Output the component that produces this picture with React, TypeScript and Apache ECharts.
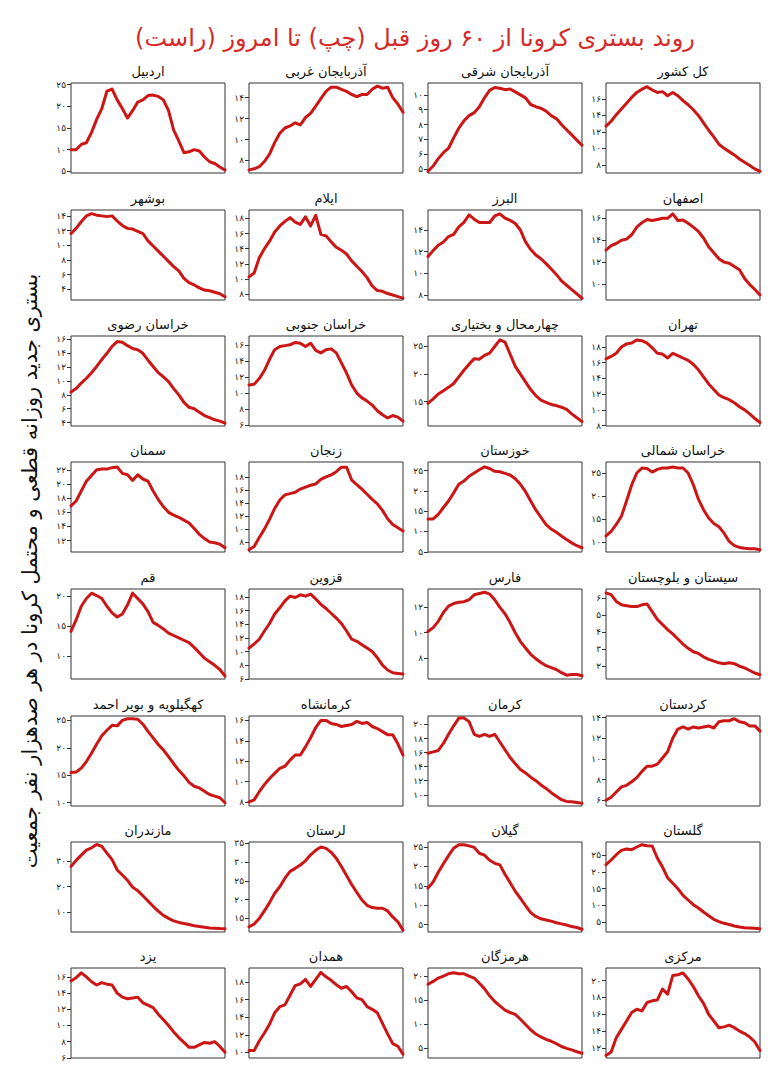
import React, { useEffect, useRef } from "react";
import * as echarts from "echarts";

// ---------- text ----------
const mainTitle = "روند بستری کرونا از ۶۰ روز قبل (چپ) تا امروز (راست)";
const yAxisTitle = "بستری جدید روزانه قطعی و محتمل کرونا در هر صدهزار نفر جمعیت";

// panel names, row by row, left to right
const names = [
  "اردبیل", "آذربایجان غربی", "آذربایجان شرقی", "کل کشور",
  "بوشهر", "ایلام", "البرز", "اصفهان",
  "خراسان رضوی", "خراسان جنوبی", "چهارمحال و بختیاری", "تهران",
  "سمنان", "زنجان", "خوزستان", "خراسان شمالی",
  "قم", "قزوین", "فارس", "سیستان و بلوچستان",
  "کهگیلویه و بویر احمد", "کرمانشاه", "کرمان", "کردستان",
  "مازندران", "لرستان", "گیلان", "گلستان",
  "یزد", "همدان", "هرمزگان", "مرکزی",
];

// days (every second day over the last 60 days)
const days = Array.from({ length: 31 }, (_, i) => String(i * 2));

// ---------- series values ----------
const ardabil = [10, 10, 11.2, 11.6, 14, 17, 19.5, 23.5, 24, 21.5, 19.5, 17.3, 19, 21, 21.5, 22.5, 22.6, 22.3, 21.5, 19, 14.5, 12, 9.3, 9.5, 10, 9.7, 8.3, 7.2, 6.8, 6, 5.3];
const azarGharbi = [7.1, 7.2, 7.4, 7.9, 8.6, 9.7, 10.6, 11.1, 11.3, 11.6, 11.4, 12.1, 12.5, 13.2, 13.9, 14.6, 15.0, 15.0, 14.8, 14.6, 14.3, 14.1, 14.3, 14.3, 14.8, 15.1, 14.9, 15.0, 14.0, 13.4, 12.6];
const azarSharghi = [4.85, 5.2, 5.7, 6.1, 6.4, 7.1, 7.75, 8.25, 8.6, 8.8, 9.2, 9.8, 10.3, 10.5, 10.45, 10.35, 10.4, 10.2, 10.0, 9.8, 9.35, 9.2, 9.1, 8.9, 8.6, 8.4, 8.0, 7.65, 7.3, 6.95, 6.6];
const kolKeshvar = [12.7, 13.3, 14.1, 14.8, 15.5, 16.2, 16.8, 17.2, 17.5, 17.1, 16.8, 16.9, 16.4, 16.8, 16.4, 15.8, 15.3, 14.7, 14.0, 13.1, 12.2, 11.4, 10.5, 10.0, 9.6, 9.2, 8.7, 8.3, 7.9, 7.5, 7.2];
const bushehr = [11.6, 12.3, 13.2, 14.0, 14.3, 14.1, 14.0, 13.9, 14.0, 13.3, 12.7, 12.3, 12.2, 11.9, 11.6, 10.6, 9.9, 9.2, 8.5, 7.8, 7.1, 6.5, 5.5, 4.9, 4.6, 4.2, 3.9, 3.8, 3.6, 3.4, 3.0];
const ilam = [10.3, 10.8, 12.8, 14.0, 15.0, 16.2, 17.0, 17.6, 18.1, 17.5, 17.2, 18.2, 17.0, 18.4, 15.9, 15.7, 14.9, 14.2, 13.8, 13.3, 12.4, 11.7, 11.0, 10.2, 9.1, 8.5, 8.4, 8.1, 7.9, 7.7, 7.5];
const alborz = [11.55, 12.1, 12.6, 12.9, 13.4, 13.6, 14.3, 14.7, 15.4, 15.0, 14.7, 14.7, 14.7, 15.3, 15.5, 15.1, 14.9, 14.6, 14.0, 12.9, 12.2, 11.7, 11.35, 10.9, 10.4, 9.9, 9.3, 8.9, 8.5, 8.1, 7.7];
const esfahan = [13.1, 13.5, 13.7, 14.0, 14.1, 14.5, 15.2, 15.6, 15.9, 15.8, 15.9, 16.0, 16.0, 16.4, 15.8, 15.85, 15.55, 15.2, 14.8, 14.2, 13.4, 12.85, 12.3, 12.0, 11.9, 11.6, 11.3, 10.5, 9.95, 9.5, 9.0];
const khorasanRazavi = [8.4, 8.9, 9.7, 10.4, 11.2, 12.1, 13.1, 14.0, 15.0, 15.7, 15.6, 15.1, 14.7, 14.5, 14.0, 13.0, 12.1, 11.2, 10.6, 9.9, 8.9, 8.0, 6.9, 6.2, 6.0, 5.5, 5.0, 4.7, 4.4, 4.2, 3.9];
const khorasanJonubi = [11.0, 11.1, 11.8, 12.8, 14.2, 15.4, 15.8, 15.9, 16.0, 16.3, 16.2, 15.8, 16.2, 15.3, 15.0, 15.4, 15.5, 15.0, 13.75, 12.5, 11.0, 10.0, 9.4, 9.0, 8.5, 7.8, 7.3, 6.9, 7.2, 7.0, 6.5];
const chaharmahal = [14.7, 15.5, 16.4, 17.0, 17.6, 18.3, 19.5, 20.7, 21.8, 22.8, 22.7, 23.4, 23.8, 25.0, 26.2, 25.8, 23.6, 21.4, 20.0, 18.6, 17.2, 16.1, 15.3, 14.9, 14.5, 14.3, 14.0, 13.6, 12.8, 12.1, 11.4];
const tehran = [16.5, 16.8, 17.2, 18.0, 18.4, 18.5, 18.9, 18.8, 18.5, 17.9, 17.2, 17.1, 16.6, 17.2, 16.9, 16.6, 16.3, 15.8, 15.1, 14.2, 13.3, 12.6, 11.9, 11.55, 11.3, 10.9, 10.4, 10.0, 9.5, 8.9, 8.4];
const semnan = [16.9, 17.6, 19.0, 20.4, 21.2, 22.0, 22.1, 22.1, 22.3, 22.4, 21.5, 21.3, 20.5, 21.3, 20.7, 20.4, 19.0, 17.8, 16.8, 16.0, 15.6, 15.3, 14.9, 14.5, 13.7, 12.9, 12.3, 11.8, 11.7, 11.5, 11.0];
const zanjan = [6.8, 7.3, 8.7, 10.0, 11.5, 13.2, 14.5, 15.3, 15.5, 15.7, 16.2, 16.5, 16.8, 17.0, 17.7, 18.1, 18.4, 18.9, 19.6, 19.6, 17.6, 16.9, 16.2, 15.4, 14.6, 13.9, 12.9, 11.6, 10.7, 10.2, 9.7];
const khuzestan = [13.1, 13.1, 14.2, 15.9, 17.5, 19.5, 21.6, 22.4, 23.6, 24.4, 25.2, 25.9, 25.5, 24.8, 24.7, 24.3, 23.9, 23.0, 21.6, 19.8, 17.5, 15.3, 13.5, 11.7, 10.6, 9.8, 8.9, 8.0, 7.2, 6.5, 6.0];
const khorasanShomali = [11.3, 12.3, 13.8, 15.6, 18.9, 22.4, 25.0, 26.1, 26.0, 25.2, 25.8, 26.1, 26.1, 26.3, 26.1, 26.1, 25.0, 22.5, 19.3, 17.0, 15.2, 14.0, 13.3, 11.9, 10.1, 9.2, 8.8, 8.6, 8.5, 8.5, 8.3];
const qom = [14.1, 16.0, 18.3, 19.6, 20.5, 20.1, 19.6, 18.3, 17.2, 16.5, 17.0, 18.5, 20.5, 19.6, 18.7, 17.4, 15.6, 15.1, 14.5, 13.8, 13.4, 13.0, 12.6, 12.2, 11.4, 10.5, 9.6, 9.0, 8.4, 7.7, 6.6];
const qazvin = [10.5, 11.1, 11.8, 13.0, 14.1, 15.5, 16.4, 17.4, 18.1, 17.9, 18.3, 18.1, 18.4, 17.7, 16.9, 16.3, 15.6, 14.9, 14.1, 13.0, 11.8, 11.5, 11.0, 10.5, 10.0, 9.1, 8.0, 7.3, 6.9, 6.8, 6.7];
const fars = [10.1, 10.4, 10.9, 11.6, 12.1, 12.3, 12.4, 12.45, 12.6, 13.0, 13.1, 13.2, 13.05, 12.6, 12.0, 11.5, 10.8, 10.0, 9.3, 8.8, 8.3, 7.95, 7.65, 7.4, 7.25, 7.1, 6.85, 6.65, 6.7, 6.7, 6.6];
const sistan = [6.3, 6.2, 5.8, 5.6, 5.55, 5.5, 5.5, 5.6, 5.65, 5.2, 4.75, 4.45, 4.15, 3.9, 3.6, 3.3, 3.05, 2.85, 2.75, 2.55, 2.4, 2.3, 2.2, 2.15, 2.2, 2.15, 2.0, 1.9, 1.75, 1.6, 1.5];
const kohgiluyeh = [15.5, 15.6, 16.3, 17.5, 19.0, 20.7, 22.2, 23.2, 24.1, 24.0, 25.0, 25.3, 25.3, 25.2, 24.3, 23.0, 21.8, 20.6, 19.6, 18.4, 17.1, 15.9, 14.9, 13.7, 13.0, 12.7, 12.1, 11.5, 11.2, 10.9, 10.0];
const kermanshah = [8.0, 8.2, 9.0, 9.7, 10.3, 10.8, 11.3, 11.5, 12.1, 12.6, 12.6, 13.4, 14.3, 15.3, 16.0, 16.0, 15.7, 15.6, 15.4, 15.5, 15.6, 15.9, 15.7, 15.8, 15.4, 15.2, 14.9, 14.6, 14.6, 13.7, 12.6];
const kerman = [15.9, 16.1, 16.3, 17.3, 18.6, 19.8, 20.9, 20.9, 20.4, 18.6, 18.3, 18.6, 18.3, 18.6, 17.5, 16.4, 15.3, 14.4, 13.6, 13.1, 12.5, 12.0, 11.4, 10.9, 10.3, 9.8, 9.3, 9.05, 9.0, 8.9, 8.8];
const kordestan = [6.0, 6.3, 6.8, 7.3, 7.45, 7.8, 8.2, 8.8, 9.3, 9.3, 9.5, 10.1, 10.7, 12.0, 12.9, 13.1, 12.9, 13.1, 13.0, 13.1, 13.2, 13.0, 13.6, 13.7, 13.7, 13.9, 13.6, 13.5, 13.2, 13.2, 12.7];
const mazandaran = [28.0, 30.4, 32.5, 34.5, 35.4, 36.7, 36.0, 33.3, 30.7, 26.6, 24.6, 22.5, 19.8, 18.4, 16.4, 14.3, 12.2, 10.3, 8.6, 7.4, 6.4, 5.8, 5.4, 5.0, 4.5, 4.2, 3.9, 3.6, 3.5, 3.35, 3.3];
const lorestan = [12.8, 13.5, 15.0, 17.0, 19.2, 21.7, 23.4, 25.7, 27.5, 28.3, 29.2, 30.3, 31.9, 33.1, 34.0, 33.6, 32.6, 31.0, 28.8, 26.4, 24.0, 21.9, 19.9, 18.5, 17.9, 17.7, 17.7, 17.0, 15.4, 14.1, 11.9];
const gilan = [14.4, 16.0, 18.5, 20.7, 22.8, 24.7, 25.6, 25.6, 25.3, 24.9, 23.4, 22.9, 21.6, 20.8, 20.4, 18.0, 15.8, 13.6, 11.8, 9.9, 8.1, 7.1, 6.5, 6.2, 5.9, 5.5, 5.2, 4.9, 4.5, 4.25, 3.8];
const golestan = [22.2, 23.6, 25.2, 26.5, 26.9, 26.7, 27.5, 28.2, 27.9, 27.8, 24.2, 21.5, 18.3, 16.6, 15.0, 13.0, 11.6, 10.2, 9.2, 8.0, 6.9, 5.8, 5.1, 4.6, 4.25, 3.8, 3.5, 3.3, 3.2, 3.1, 3.0];
const yazd = [15.5, 15.9, 16.5, 16.0, 15.4, 15.0, 15.3, 15.1, 15.0, 14.0, 13.5, 13.3, 13.4, 13.5, 12.8, 12.5, 12.2, 11.4, 10.7, 10.0, 9.2, 8.5, 7.9, 7.3, 7.3, 7.6, 7.9, 7.8, 8.0, 7.4, 6.7];
const hamedan = [10.2, 10.2, 11.3, 12.2, 13.2, 14.5, 15.2, 15.4, 16.5, 17.6, 17.8, 18.3, 17.5, 18.3, 19.1, 18.6, 18.2, 17.7, 17.3, 17.5, 16.9, 16.2, 16.0, 15.2, 14.9, 14.5, 13.3, 12.1, 11.0, 10.7, 9.8];
const hormozgan = [18.3, 18.9, 19.6, 20.0, 20.5, 20.7, 20.5, 20.5, 20.0, 19.6, 18.5, 17.4, 15.9, 14.7, 13.8, 12.9, 12.4, 12.0, 11.0, 9.9, 8.8, 7.9, 7.3, 6.8, 6.4, 5.9, 5.3, 4.9, 4.6, 4.2, 3.9];
const markazi = [11.1, 11.5, 13.2, 14.2, 15.2, 16.2, 16.6, 16.4, 17.4, 17.6, 17.7, 19.0, 18.4, 20.6, 20.7, 20.9, 20.2, 19.3, 18.2, 17.3, 16.0, 15.2, 14.4, 14.5, 14.7, 14.4, 14.0, 13.7, 13.3, 12.7, 11.7];

const seriesValues = [
  ardabil, azarGharbi, azarSharghi, kolKeshvar,
  bushehr, ilam, alborz, esfahan,
  khorasanRazavi, khorasanJonubi, chaharmahal, tehran,
  semnan, zanjan, khuzestan, khorasanShomali,
  qom, qazvin, fars, sistan,
  kohgiluyeh, kermanshah, kerman, kordestan,
  mazandaran, lorestan, gilan, golestan,
  yazd, hamedan, hormozgan, markazi,
];

// ---------- y-axis tick labels ----------
const yTicks = [
  [5, 10, 15, 20, 25], [8, 10, 12, 14], [5, 6, 7, 8, 9, 10], [8, 10, 12, 14, 16],
  [4, 6, 8, 10, 12, 14], [8, 10, 12, 14, 16, 18], [8, 10, 12, 14], [10, 12, 14, 16],
  [4, 6, 8, 10, 12, 14, 16], [6, 8, 10, 12, 14, 16], [15, 20, 25], [8, 10, 12, 14, 16, 18],
  [12, 14, 16, 18, 20, 22], [8, 10, 12, 14, 16, 18], [5, 10, 15, 20, 25], [10, 15, 20, 25],
  [10, 15, 20], [6, 8, 10, 12, 14, 16, 18], [8, 10, 12], [2, 3, 4, 5, 6],
  [10, 15, 20, 25], [8, 10, 12, 14, 16], [10, 12, 14, 16, 18, 20], [6, 8, 10, 12, 14],
  [10, 20, 30], [15, 20, 25, 30, 35], [5, 10, 15, 20, 25], [5, 10, 15, 20, 25],
  [6, 8, 10, 12, 14, 16], [10, 12, 14, 16, 18], [5, 10, 15, 20], [12, 14, 16, 18, 20],
];

// y-axis extents of each panel
const yMin = [
  4.6, 6.8, 4.73, 7.0,
  2.55, 7.25, 7.54, 8.54,
  3.5, 5.9, 10.6, 7.95,
  10.4, 6.45, 4.95, 7.8,
  6.1, 5.98, 6.35, 1.25,
  9.4, 7.6, 8.4, 5.45,
  2.0, 11.4, 3.1, 2.0,
  5.98, 9.36, 2.9, 10.8,
];
const yMax = [
  25.4, 15.4, 10.8, 17.95,
  14.8, 19.1, 15.85, 16.76,
  16.5, 17.1, 26.9, 19.4,
  23.1, 20.4, 27.1, 27.4,
  21.2, 19.15, 13.45, 6.53,
  25.8, 16.43, 21.2, 14.16,
  37.7, 35.3, 26.3, 29.0,
  17.1, 19.6, 21.7, 21.5,
];

// ---------- layout ----------
const COL_LEFT = [71, 249, 428, 606];
const ROW_TOP = [83, 210, 336, 462, 589, 716, 842, 968];
const BOX_W = 154;
const BOX_H = 90;
const RED = "#cc1616";
const FONT = "DejaVu Sans, Noto Sans, sans-serif";

const faDigits = "۰۱۲۳۴۵۶۷۸۹";
const toFa = (v: number) => String(v).replace(/\d/g, (d) => faDigits[Number(d)]);

export default function App() {
  const ref = useRef<HTMLDivElement>(null);

  useEffect(() => {
    document.body.style.margin = "0";
    if (!ref.current) return;
    const chart = echarts.init(ref.current, null, { renderer: "svg" });

    const grids: any[] = [];
    const xAxes: any[] = [];
    const yAxes: any[] = [];
    const series: any[] = [];
    const graphics: any[] = [];

    names.forEach((name, i) => {
      const r = Math.floor(i / 4);
      const c = i % 4;
      const left = COL_LEFT[c];
      const top = ROW_TOP[r];
      grids.push({
        left,
        top,
        width: BOX_W,
        height: BOX_H,
        show: true,
        borderColor: "#333",
        borderWidth: 1,
        backgroundColor: "#fff",
        containLabel: false,
      });
      xAxes.push({
        gridIndex: i,
        type: "category",
        data: days,
        boundaryGap: false,
        show: false,
      });
      yAxes.push({
        gridIndex: i,
        type: "value",
        min: yMin[i],
        max: yMax[i],
        axisLine: { show: false },
        splitLine: { show: false },
        axisTick: {
          show: true,
          length: 4,
          customValues: yTicks[i],
          lineStyle: { color: "#333", width: 1 },
        },
        axisLabel: {
          show: true,
          customValues: yTicks[i],
          formatter: (v: number) => toFa(v),
          fontSize: 9,
          color: "#222",
          margin: 5,
          fontFamily: FONT,
          showMinLabel: true,
          showMaxLabel: true,
        },
      });
      series.push({
        type: "line",
        xAxisIndex: i,
        yAxisIndex: i,
        data: seriesValues[i],
        symbol: "none",
        showSymbol: false,
        lineStyle: { color: RED, width: 3, join: "round", cap: "round" },
        itemStyle: { color: RED },
      });
      graphics.push({
        type: "text",
        x: left + BOX_W / 2,
        y: top - 12,
        style: {
          text: name + "\u200F",
          textAlign: "center",
          textVerticalAlign: "middle",
          fontSize: 13,
          fontFamily: FONT,
          fill: "#111",
        },
      });
    });

    graphics.push({
      type: "text",
      x: 415,
      y: 38,
      style: {
        text: "\u200F" + mainTitle + "\u200F",
        textAlign: "center",
        textVerticalAlign: "middle",
        fontSize: 24,
        fontFamily: FONT,
        fill: "#d42a2a",
      },
    });
    graphics.push({
      type: "text",
      x: 30,
      y: 571,
      rotation: Math.PI / 2,
      style: {
        text: yAxisTitle + "\u200F",
        textAlign: "center",
        textVerticalAlign: "middle",
        fontSize: 21,
        fontFamily: FONT,
        fill: "#111",
      },
    });

    chart.setOption({
      animation: false,
      backgroundColor: "#fff",
      grid: grids,
      xAxis: xAxes,
      yAxis: yAxes,
      series,
      graphic: { elements: graphics },
    });

    return () => chart.dispose();
  }, []);

  return <div ref={ref} style={{ width: 771, height: 1080 }} />;
}
